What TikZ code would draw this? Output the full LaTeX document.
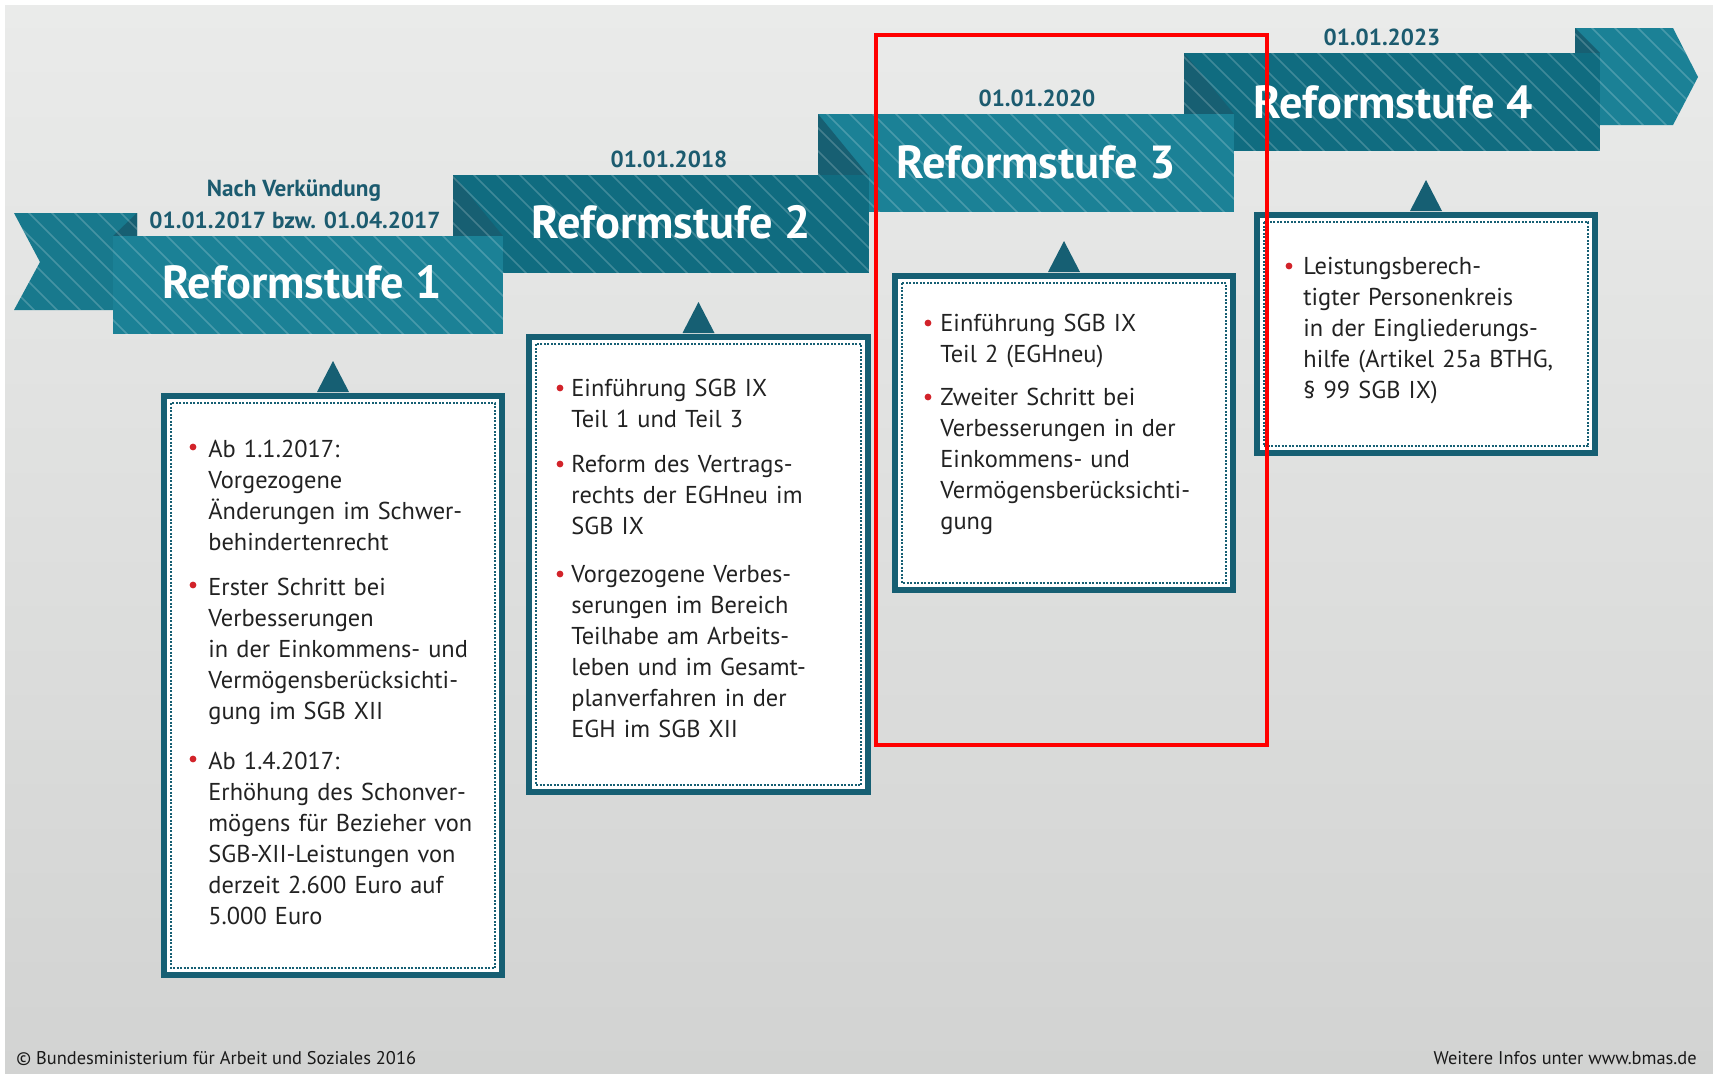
\documentclass[tikz,border=0pt]{standalone}
\usepackage{fontspec}
\setmainfont{PT Sans}
\definecolor{bandlight}{HTML}{1B8196}
\definecolor{banddark}{HTML}{106C80}
\definecolor{tailcol}{HTML}{18798D}
\definecolor{foldcol}{HTML}{175F72}
\definecolor{framecol}{HTML}{165F73}
\definecolor{datecol}{HTML}{1C5B6F}
\definecolor{bodycol}{HTML}{222222}
\definecolor{bulletred}{HTML}{D2232A}
\definecolor{bgtop}{HTML}{EAEBEA}
\definecolor{bgbot}{HTML}{D2D3D2}
\newcommand{\ribstripes}{\foreach \s in {-345,-322,...,1720} {\draw[stripe] (\s,0) -- ++(345,345);}}
\tikzset{
  stripe/.style={draw=white, opacity=0.2, line width=0.8pt},
  bandtitle/.style={text=white, font=\fontsize{23.2}{26}\selectfont\bfseries, inner sep=0pt},
  datelabel/.style={text=datecol, font=\fontsize{11.6}{14}\selectfont\bfseries, inner sep=0pt, align=center},
  infobox/.style={draw=framecol, line width=3pt, fill=white, inner sep=0pt, rectangle},
  dotframe/.style={draw=framecol, line width=1pt, dash pattern=on 1pt off 0.75pt},
  bodytext/.style={text=bodycol, font=\fontsize{12.2}{15.5}\selectfont, inner sep=0pt, text width=170pt, align=left, anchor=base west},
  bulletdot/.style={circle, fill=bulletred, inner sep=0pt, minimum size=3.4pt},
  pointer/.style={fill=framecol},
  footer/.style={text=black!90, font=\fontsize{9.2}{11}\selectfont, inner sep=0pt},
  highlight/.style={draw=red, line width=2pt}
}
\begin{document}
\begin{tikzpicture}[x=0.5pt,y=-0.5pt]
\useasboundingbox (0,0) rectangle (1713,1073);
\fill[white] (0,0) rectangle (1713,1073);
\shade[top color=bgtop, bottom color=bgbot] (5,5) rectangle (1713,1073);

% right tail
\begin{scope}
\clip (1575,28) -- (1673,28) -- (1698,77) -- (1673,125) -- (1575,125) -- cycle;
\fill[bandlight] (1500,0) rectangle (1713,200);
\fill[foldcol] (1575,28) -- (1600,53) -- (1575,53) -- cycle;
\ribstripes
\end{scope}
% band 4
\begin{scope}
\clip (1184,53) rectangle (1600,151);
\fill[banddark] (1184,53) rectangle (1600,151);
\fill[foldcol] (1184,53) -- (1234,114) -- (1184,114) -- cycle;
\ribstripes
\end{scope}
% band 3
\begin{scope}
\clip (818,114) rectangle (1234,212);
\fill[bandlight] (818,114) rectangle (1234,212);
\fill[foldcol] (818,114) -- (868,175) -- (818,175) -- cycle;
\ribstripes
\end{scope}
% band 2
\begin{scope}
\clip (453,175) rectangle (869,273);
\fill[banddark] (453,175) rectangle (869,273);
\fill[foldcol] (453,175) -- (503,236) -- (453,236) -- cycle;
\ribstripes
\end{scope}
% left tail
\begin{scope}
\clip (14,213) -- (137,213) -- (137,310) -- (14,310) -- (40,262) -- cycle;
\fill[tailcol] (0,200) rectangle (150,320);
\fill[foldcol] (137,213) -- (137,236) -- (113,236) -- cycle;
\ribstripes
\end{scope}
% band 1
\begin{scope}
\clip (113,236) rectangle (503,334);
\fill[bandlight] (113,236) rectangle (503,334);
\ribstripes
\end{scope}

% band titles
\node[bandtitle] (r1) at (302,282) {Reformstufe 1};
\node[bandtitle] (r2) at (671,222) {Reformstufe 2};
\node[bandtitle] (r3) at (1036,162) {Reformstufe 3};
\node[bandtitle] (r4) at (1393,102) {Reformstufe 4};

% dates
\node[datelabel] (d1a) at (294,191) {Nach Verkündung};
\node[datelabel] (d1b) at (295,220) {01.01.2017 bzw. 01.04.2017};
\node[datelabel] (d2) at (669,159) {01.01.2018};
\node[datelabel] (d3) at (1037,98) {01.01.2020};
\node[datelabel] (d4) at (1382,37) {01.01.2023};

% boxes
\node[infobox, minimum width=169pt, minimum height=289.5pt] (box1) at (333,685.5) {};
\node[infobox, minimum width=169.5pt, minimum height=227.5pt] (box2) at (698.5,564.5) {};
\node[infobox, minimum width=169pt, minimum height=157pt] (box3) at (1064,433) {};
\node[infobox, minimum width=169pt, minimum height=119pt] (box4) at (1426,334) {};
\foreach \b in {box1,box2,box3,box4} {
  \draw[dotframe] ([shift={(10,10)}]\b.north west) rectangle ([shift={(-10,-10)}]\b.south east);
  \fill[pointer] ([shift={(-16,-1)}]\b.north) -- ([shift={(0,-32)}]\b.north) -- ([shift={(16,-1)}]\b.north) -- cycle;
}

% box 1 text
\node[bodytext] (t11) at (208,457) {Ab 1.1.2017:\\Vorgezogene\\Änderungen im Schwer-\\behindertenrecht};
\node[bodytext] (t12) at (208,595) {Erster Schritt bei\\Verbesserungen\\in der Einkommens- und\\Vermögensberücksichti-\\gung im SGB XII};
\node[bodytext] (t13) at (208,769) {Ab 1.4.2017:\\Erhöhung des Schonver-\\mögens für Bezieher von\\SGB-XII-Leistungen von\\derzeit 2.600 Euro auf\\5.000 Euro};
\node[bulletdot] (p11) at (193,447) {};
\node[bulletdot] (p12) at (193,585) {};
\node[bulletdot] (p13) at (193,759) {};

% box 2 text
\node[bodytext] (t21) at (571,396) {Einführung SGB IX\\Teil 1 und Teil 3};
\node[bodytext] (t22) at (571,472) {Reform des Vertrags-\\rechts der EGHneu im\\SGB IX};
\node[bodytext] (t23) at (571,582) {Vorgezogene Verbes-\\serungen im Bereich\\Teilhabe am Arbeits-\\leben und im Gesamt-\\planverfahren in der\\EGH im SGB XII};
\node[bulletdot] (p21) at (560,388) {};
\node[bulletdot] (p22) at (560,464) {};
\node[bulletdot] (p23) at (560,574) {};

% box 3 text
\node[bodytext] (t31) at (940,331) {Einführung SGB IX\\Teil 2 (EGHneu)};
\node[bodytext] (t32) at (940,405) {Zweiter Schritt bei\\Verbesserungen in der\\Einkommens- und\\Vermögensberücksichti-\\gung};
\node[bulletdot] (p31) at (928,323) {};
\node[bulletdot] (p32) at (928,397) {};

% box 4 text
\node[bodytext] (t41) at (1303,274) {Leistungsberech-\\tigter Personenkreis\\in der Eingliederungs-\\hilfe (Artikel 25a BTHG,\\§ 99 SGB IX)};
\node[bulletdot] (p41) at (1289,266) {};

% footer
\node[footer, anchor=west] (copy) at (16,1058) {© Bundesministerium für Arbeit und Soziales 2016};
\node[footer, anchor=east] (info) at (1697,1058) {Weitere Infos unter www.bmas.de};

% highlight
\draw[highlight] (876,35) rectangle (1267,745);
\end{tikzpicture}
\end{document}
